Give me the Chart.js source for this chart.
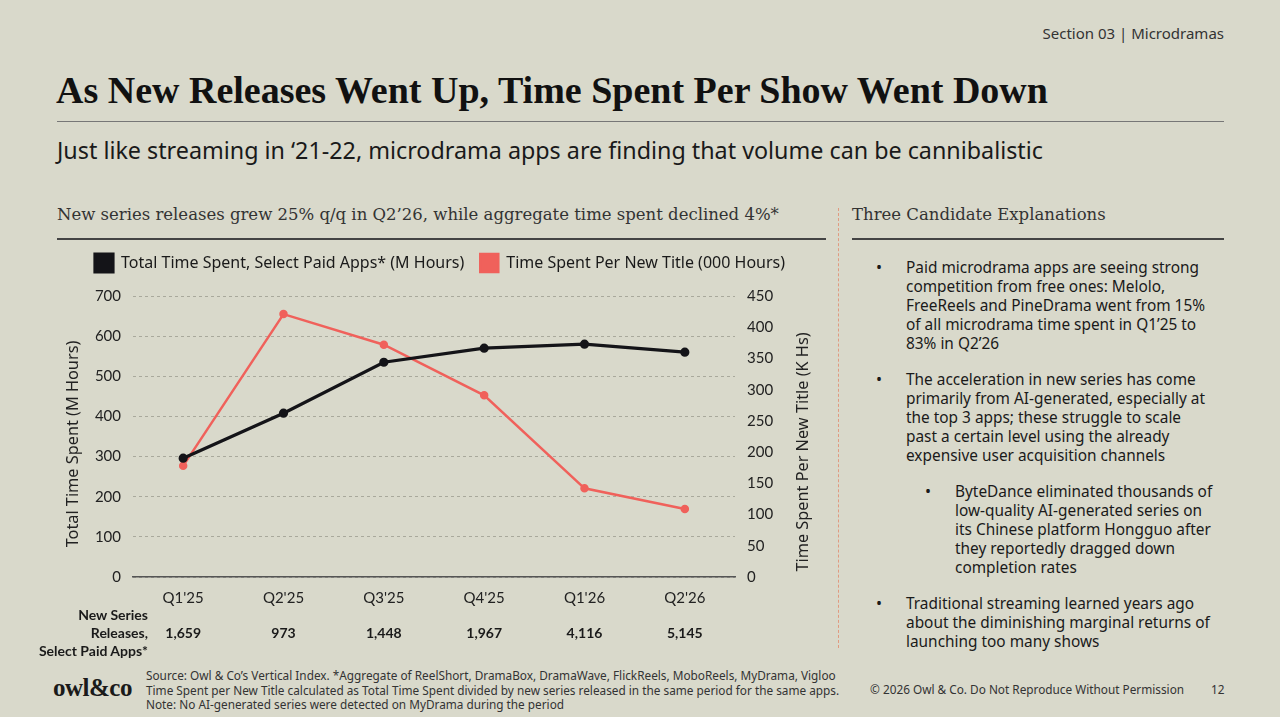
<!DOCTYPE html>
<html lang="en">
<head>
<meta charset="UTF-8">
<title>Microdramas</title>
<script src="https://cdn.jsdelivr.net/npm/chart.js"></script>
<style>
    body {
        margin: 0;
        width: 1280px;
        height: 717px;
        background: #d9d9cb;
        font-family: 'Noto Sans', sans-serif;
        color: #1a1a1a;
        position: relative;
        overflow: hidden;
    }
    .abs { position: absolute; }
    .section { right: 56px; top: 23px; font-size: 15px; color: #333; }
    .title {
        left: 56px; top: 68px;
        font-family: 'Liberation Serif', serif; font-weight: bold;
        font-size: 38px; color: #111; white-space: nowrap;
    }
    .rule { background: #777; height: 1px; }
    .subtitle { left: 57px; top: 134px; font-size: 23.3px; color: #1a1a1a; white-space: nowrap; }
    .head {
        font-family: 'DejaVu Serif', serif; font-size: 16.5px; color: #333; white-space: nowrap;
    }
    .panel { left: 906px; top: 258px; width: 306px; font-size: 15.4px; line-height: 19px; color: #1a1a1a; }
    .item { position: relative; margin-bottom: 17px; }
    .item::before { content: '•'; position: absolute; left: -30px; top: 0; font-size: 16px; }
    .sub { margin-left: 49px; width: 263px; }
    .foot { font-size: 11.8px; color: #333; line-height: 14.5px; white-space: nowrap; }
    .logo { left: 53px; top: 674px; font-family: 'Liberation Serif', serif; font-weight: bold; font-size: 25px; letter-spacing: -0.5px; }
    .rowlabel { left: 0; width: 148px; top: 606px; text-align: right; font-family: 'Lato', sans-serif; font-weight: bold; font-size: 14px; line-height: 18px; }
</style>
</head>
<body>
    <div class="abs section">Section 03 | Microdramas</div>
    <div class="abs title">As New Releases Went Up, Time Spent Per Show Went Down</div>
    <div class="abs rule" style="left:57px; top:121px; width:1167px;"></div>
    <div class="abs subtitle">Just like streaming in ‘21-22, microdrama apps are finding that volume can be cannibalistic</div>

    <div class="abs head" style="left:57px; top:205px;">New series releases grew 25% q/q in Q2’26, while aggregate time spent declined 4%*</div>
    <div class="abs rule" style="left:57px; top:238px; width:769px; height:2px; background:#444;"></div>
    <div class="abs" style="left:838px; top:208px; height:440px; border-left:1px dashed #e09a80;"></div>
    <div class="abs head" style="left:852px; top:205px;">Three Candidate Explanations</div>
    <div class="abs rule" style="left:852px; top:238px; width:372px; height:2px; background:#444;"></div>

    <div class="abs panel">
        <div class="item">Paid microdrama apps are seeing strong competition from free ones: Melolo, FreeReels and PineDrama went from 15% of all microdrama time spent in Q1’25 to 83% in Q2’26</div>
        <div class="item">The acceleration in new series has come primarily from AI-generated, especially at the top 3 apps; these struggle to scale past a certain level using the already expensive user acquisition channels</div>
        <div class="item sub">ByteDance eliminated thousands of low-quality AI-generated series on its Chinese platform Hongguo after they reportedly dragged down completion rates</div>
        <div class="item">Traditional streaming learned years ago about the diminishing marginal returns of launching too many shows</div>
    </div>

    <canvas id="chart" class="abs" style="left:40px; top:238px;" width="800" height="427"></canvas>
    <div class="abs rowlabel">New Series<br>Releases,<br>Select Paid Apps*</div>

    <div class="abs logo">owl&amp;co</div>
    <div class="abs foot" style="left:146px; top:668px;">Source: Owl &amp; Co’s Vertical Index. *Aggregate of ReelShort, DramaBox, DramaWave, FlickReels, MoboReels, MyDrama, Vigloo<br>Time Spent per New Title calculated as Total Time Spent divided by new series released in the same period for the same apps.<br>Note: No AI-generated series were detected on MyDrama during the period</div>
    <div class="abs foot" style="left:870px; top:682px;">© 2026 Owl &amp; Co. Do Not Reproduce Without Permission</div>
    <div class="abs foot" style="left:1211px; top:682px;">12</div>

<script>
    const quarters = ["Q1'25", "Q2'25", "Q3'25", "Q4'25", "Q1'26", "Q2'26"];
    const totalTime = [296, 408, 535, 570, 580, 560];      // M hours
    const perTitle = [178, 421, 372, 291, 142, 109];       // 000 hours
    const newSeries = ['1,659', '973', '1,448', '1,967', '4,116', '5,145'];
    const leftTicks = [0, 100, 200, 300, 400, 500, 600, 700];
    const rightTicks = [0, 50, 100, 150, 200, 250, 300, 350, 400, 450];

    const BLACK = '#141418';
    const RED = '#f0615b';
    const tickFont = { family: 'Lato', size: 15 };

    // extra room under the legend so the plot starts where the reference does
    const legendGap = {
        id: 'legendGap',
        beforeLayout(chart) {
            const lg = chart.legend;
            if (lg && !lg._gap) {
                const fit = lg.fit;
                lg.fit = function () { fit.call(this); this.height += 14; };
                lg._gap = true;
            }
        }
    };

    // releases row under the quarters + both axis titles (both read bottom to top)
    const extras = {
        id: 'extras',
        afterDraw(chart) {
            const ctx = chart.ctx;
            const x = chart.scales.x;
            ctx.save();
            ctx.font = 'bold 14px Lato';
            ctx.fillStyle = '#1a1a1a';
            ctx.textAlign = 'center';
            ctx.textBaseline = 'middle';
            newSeries.forEach((v, i) => {
                ctx.fillText(v, x.getPixelForValue(i), 395);
            });
            ctx.font = '16.3px "Noto Sans"';
            ctx.fillStyle = '#222';
            [[33, 206, 'Total Time Spent (M Hours)'], [763, 214, 'Time Spent Per New Title (K Hs)']].forEach(([tx, ty, t]) => {
                ctx.save();
                ctx.translate(tx, ty);
                ctx.rotate(-Math.PI / 2);
                ctx.fillText(t, 0, 0);
                ctx.restore();
            });
            ctx.restore();
        }
    };

    new Chart(document.getElementById('chart'), {
        type: 'line',
        data: {
            labels: quarters,
            datasets: [{
                label: 'Total Time Spent, Select Paid Apps* (M Hours)',
                data: totalTime,
                yAxisID: 'y',
                borderColor: BLACK,
                backgroundColor: BLACK,
                borderWidth: 3.2,
                pointRadius: 3,
                pointBackgroundColor: BLACK,
                tension: 0
            }, {
                label: 'Time Spent Per New Title (000 Hours)',
                data: perTitle,
                yAxisID: 'y1',
                borderColor: RED,
                backgroundColor: RED,
                borderWidth: 2.5,
                pointRadius: 3,
                pointBackgroundColor: RED,
                tension: 0
            }]
        },
        options: {
            responsive: false,
            animation: false,
            plugins: {
                legend: {
                    labels: {
                        boxWidth: 18, boxHeight: 18, padding: 16,
                        color: '#1a1a1a',
                        font: { family: 'Noto Sans', size: 16 }
                    }
                },
                tooltip: { enabled: false }
            },
            scales: {
                x: {
                    offset: true,
                    grid: { drawOnChartArea: false, drawTicks: false },
                    border: { display: true, color: '#555', width: 1.5 },
                    ticks: { color: '#222', font: tickFont, padding: 12 },
                    afterFit: s => { s.height = 88; }
                },
                y: {
                    position: 'left',
                    min: 0, max: 700,
                    afterBuildTicks: s => { s.ticks = leftTicks.map(v => ({ value: v })); },
                    grid: { color: '#a9a99c', drawTicks: false },
                    border: { display: false, dash: [3, 3] },
                    ticks: { color: '#222', font: tickFont, padding: 12 },
                    afterFit: s => { s.width = 93; }
                },
                y1: {
                    position: 'right',
                    min: 0, max: 450,
                    afterBuildTicks: s => { s.ticks = rightTicks.map(v => ({ value: v })); },
                    grid: { drawOnChartArea: false, drawTicks: false },
                    border: { display: false },
                    ticks: { color: '#222', font: tickFont, padding: 12 },
                    afterFit: s => { s.width = 105; }
                }
            }
        },
        plugins: [legendGap, extras]
    });
</script>
</body>
</html>
